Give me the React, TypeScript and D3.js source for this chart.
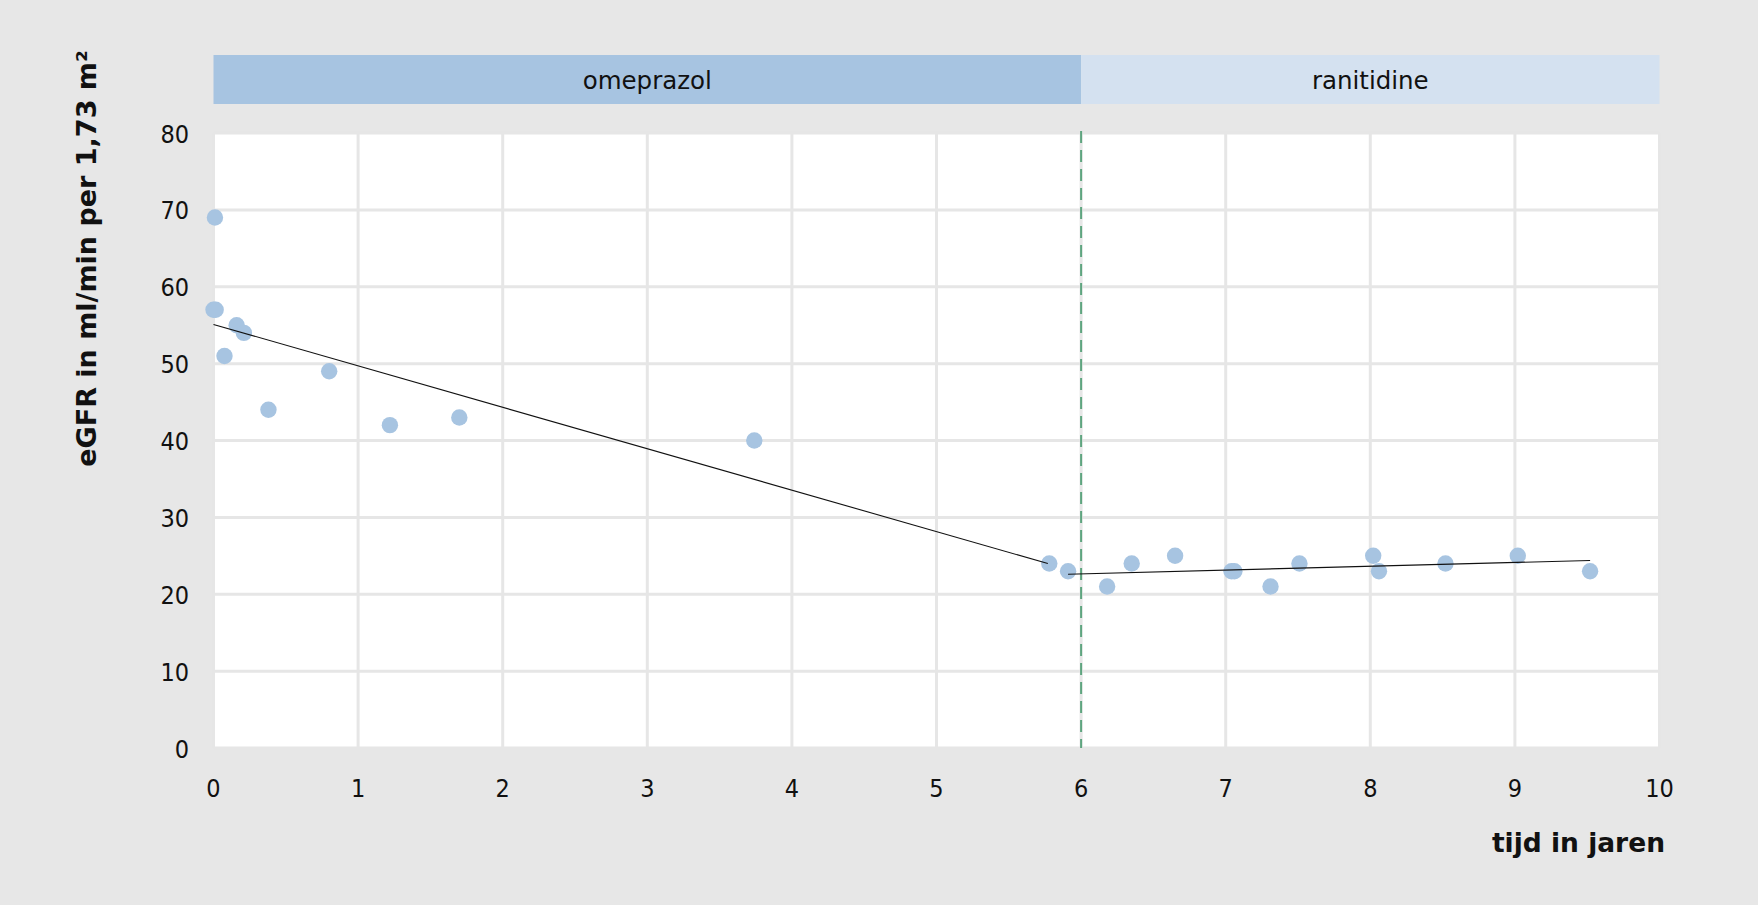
import React from 'react';
import {scaleLinear, line, range} from 'd3';

// meetpunten (tijd in jaren, eGFR)
const years = [0.01, 0.0, 0.015, 0.16, 0.21, 0.076, 0.38, 0.8, 1.22, 1.7, 3.74,
    5.78, 5.91, 6.18, 6.35, 6.65, 7.04, 7.06, 7.31, 7.51, 8.02, 8.06, 8.52, 9.02, 9.52];
const egfr = [69, 57, 57, 55, 54, 51, 44, 49, 42, 43, 40,
    24, 23, 21, 24, 25, 23, 23, 21, 24, 25, 23, 24, 25, 23];

// trendlijnen, begin- en eindpunt
const trend1X = [0, 5.77];
const trend1Y = [55.1, 24.0];
const trend2X = [5.91, 9.52];
const trend2Y = [22.6, 24.4];

const phases = ['omeprazol', 'ranitidine'];
const phaseStart = [0, 6];
const phaseEnd = [6, 10];
const phaseColors = ['#a7c4e1', '#d4e1f0'];

const xTicks = range(0, 11);
const yTicks = range(0, 90, 10);
const switchYear = 6;

const W = 1758, H = 905;
const left = 213.5, right = 1659.5, top = 133, bottom = 748;

const App = (): JSX.Element => {
    const x = scaleLinear().domain([0, 10]).range([left, right]);
    const y = scaleLinear().domain([0, 80]).range([bottom, top]);

    const trendLine = line<number>()
        .x((d) => x(d[0]))
        .y((d) => y(d[1]));

    const t1 = trend1X.map((v, i) => [v, trend1Y[i]]);
    const t2 = trend2X.map((v, i) => [v, trend2Y[i]]);

    const font = '"DejaVu Sans", sans-serif';
    const tickFont = '"DejaVu Sans Condensed", "DejaVu Sans", sans-serif';

    return (
        <>
            <style>{'body{margin:0}'}</style>
            <svg width={W} height={H} viewBox={`0 0 ${W} ${H}`} style={{display: 'block'}}>
                <rect width={W} height={H} fill="#e7e7e7"/>
                {/* fase balken */}
                {phases.map((p, i) => (
                    <g key={p}>
                        <rect x={x(phaseStart[i])} y={55} width={x(phaseEnd[i]) - x(phaseStart[i])} height={49}
                              fill={phaseColors[i]}/>
                        <text x={(x(phaseStart[i]) + x(phaseEnd[i])) / 2} y={89} textAnchor="middle"
                              fontFamily={font} fontSize={24.5} fill="#111">{p}</text>
                    </g>
                ))}
                {/* plotvlak */}
                <rect x={left} y={top} width={right - left} height={bottom - top} fill="#fff"/>
                {xTicks.map((t) => (
                    <line key={'gx' + t} x1={x(t)} x2={x(t)} y1={top} y2={bottom} stroke="#e6e6e6" strokeWidth={3}/>
                ))}
                {yTicks.map((t) => (
                    <line key={'gy' + t} x1={left} x2={right} y1={y(t)} y2={y(t)} stroke="#e6e6e6" strokeWidth={3}/>
                ))}
                {/* as labels */}
                {yTicks.map((t) => (
                    <text key={'ty' + t} x={189} y={y(t)} dy="0.38em" textAnchor="end" fontStretch="condensed"
                          fontFamily={tickFont} fontSize={25} fill="#111">{t}</text>
                ))}
                {xTicks.map((t) => (
                    <text key={'tx' + t} x={x(t)} y={797} textAnchor="middle" fontStretch="condensed"
                          fontFamily={tickFont} fontSize={25} fill="#111">{t}</text>
                ))}
                {/* wisselmoment */}
                <line x1={x(switchYear)} x2={x(switchYear)} y1={top - 2} y2={bottom} stroke="#5ea57f"
                      strokeWidth={2} strokeDasharray="12 7"/>
                {/* punten */}
                {years.map((v, i) => (
                    <circle key={'p' + i} cx={x(v)} cy={y(egfr[i])} r={8.2} fill="#a7c4e1"/>
                ))}
                <path d={trendLine(t1 as any) || ''} fill="none" stroke="#111" strokeWidth={1.1}/>
                <path d={trendLine(t2 as any) || ''} fill="none" stroke="#111" strokeWidth={1.1}/>
                {/* titels */}
                <text transform="translate(96,258.5) rotate(-90)" textAnchor="middle" fontFamily={font}
                      fontWeight="bold" fontSize={27} fill="#111">eGFR in ml/min per 1,73 m²</text>
                <text x={1665} y={852} textAnchor="end" fontFamily={font} fontWeight="bold" fontSize={26.5}
                      fill="#111">tijd in jaren</text>
            </svg>
        </>
    );
};

export default App;
